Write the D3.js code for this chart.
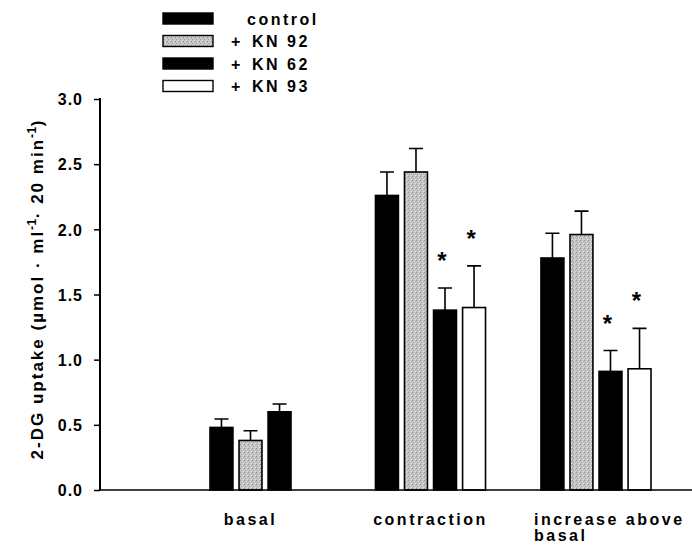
<!DOCTYPE html>
<html>
<head>
<meta charset="utf-8">
<script src="https://cdn.jsdelivr.net/npm/d3@7"></script>
<style>
  body { margin: 0; background: #fff; }
  svg text { font-family: "Liberation Sans", Arial, sans-serif; font-weight: bold; fill: #000; }
</style>
</head>
<body>
<svg id="chart" width="692" height="546"></svg>
<script>
// data
var categories = ["basal", "contraction", "increase above basal"];
var categoryLines = [["basal"], ["contraction"], ["increase above", "basal"]];
var seriesNames = ["control", "KN 92", "KN 62", "KN 93"];
var legendPrefix = ["", "+", "+", "+"];

var controlMeans = [0.48, 2.26, 1.78];
var kn92Means    = [0.38, 2.44, 1.96];
var kn62Means    = [0.60, 1.38, 0.91];
var kn93Means    = [null, 1.40, 0.93];

var controlSem = [0.065, 0.18, 0.19];
var kn92Sem    = [0.075, 0.18, 0.18];
var kn62Sem    = [0.06, 0.17, 0.16];
var kn93Sem    = [null, 0.32, 0.31];

var kn62Signif = [false, true, true];
var kn93Signif = [false, true, true];

var yTicks = [0, 0.5, 1.0, 1.5, 2.0, 2.5, 3.0];

var svg = d3.select("#chart");

// stipple for the KN 92 bars
var defs = svg.append("defs");
var pat = defs.append("pattern")
  .attr("id", "stipple")
  .attr("patternUnits", "userSpaceOnUse")
  .attr("width", 4).attr("height", 4);
pat.append("rect").attr("width", 4).attr("height", 4).attr("fill", "#c6c6c6");
[[0, 0, "#8a8a8a"], [2, 1, "#e6e6e6"], [1, 2, "#9c9c9c"], [3, 3, "#dcdcdc"], [3, 1, "#a8a8a8"]].forEach(function(p) {
  pat.append("rect").attr("x", p[0]).attr("y", p[1]).attr("width", 1).attr("height", 1).attr("fill", p[2]);
});

var fills = ["#000", "url(#stipple)", "#000", "#fff"];

var means = [controlMeans, kn92Means, kn62Means, kn93Means];
var sems = [controlSem, kn92Sem, kn62Sem, kn93Sem];
var signif = [null, null, kn62Signif, kn93Signif];

var axisX = 100, baseY = 490, topY = 99;

var y = d3.scaleLinear().domain([0, 3]).range([baseY, topY]);
var x0 = d3.scaleBand().domain(categories).range([210, 651]).paddingInner(0.335);
var x1 = d3.scaleBand().domain(seriesNames).range([0, x0.bandwidth()]).paddingInner(0.21);

// flatten to bar records
var bars = [];
categories.forEach(function(c, ci) {
  seriesNames.forEach(function(s, si) {
    if (means[si][ci] == null) return;
    bars.push({cat: c, ci: ci, ser: s, si: si, v: means[si][ci], e: sems[si][ci],
               star: signif[si] ? signif[si][ci] : false});
  });
});

var g = svg.append("g");

// error bars first so bar outline sits over the stem foot
g.selectAll(".err").data(bars).enter().append("path")
  .attr("class", "err")
  .attr("fill", "none").attr("stroke", "#000").attr("stroke-width", 1.6)
  .attr("d", function(d) {
    var cx = x0(d.cat) + x1(d.ser) + x1.bandwidth() / 2;
    var yt = y(d.v + d.e);
    return "M" + cx + "," + y(d.v) + "V" + yt + "M" + (cx - 7) + "," + yt + "H" + (cx + 7);
  });

g.selectAll(".bar").data(bars).enter().append("rect")
  .attr("class", "bar")
  .attr("x", function(d) { return x0(d.cat) + x1(d.ser); })
  .attr("y", function(d) { return y(d.v); })
  .attr("width", x1.bandwidth())
  .attr("height", function(d) { return baseY - y(d.v); })
  .attr("fill", function(d) { return fills[d.si]; })
  .attr("stroke", "#000").attr("stroke-width", 1.6);

// significance stars
g.selectAll(".star").data(bars.filter(function(d) { return d.star; })).enter().append("text")
  .attr("class", "star")
  .attr("x", function(d) { return x0(d.cat) + x1(d.ser) + x1.bandwidth() / 2 - 3; })
  .attr("y", function(d) { return y(d.v + d.e) - 19; })
  .attr("text-anchor", "middle")
  .style("font-size", "24px")
  .text("*");

// axes
var yAxis = d3.axisLeft(y).tickValues(yTicks).tickSize(6).tickPadding(11)
  .tickFormat(d3.format(".1f"));
var ya = svg.append("g").attr("transform", "translate(" + axisX + ",0)").call(yAxis);
ya.select(".domain").remove();
ya.selectAll(".tick line").attr("stroke", "#000").attr("stroke-width", 1.5);
ya.selectAll(".tick text").style("font-size", "16px").style("letter-spacing", "1px")
  .attr("font-family", null).attr("dy", "0.36em");

svg.append("line").attr("x1", axisX).attr("x2", axisX).attr("y1", topY - 1).attr("y2", baseY)
  .attr("stroke", "#000").attr("stroke-width", 2);
svg.append("line").attr("x1", axisX).attr("x2", 692).attr("y1", baseY).attr("y2", baseY)
  .attr("stroke", "#000").attr("stroke-width", 1.5);

// category labels
categories.forEach(function(c, ci) {
  var lines = categoryLines[ci];
  var present = bars.filter(function(d) { return d.ci === ci; });
  var t = svg.append("text").style("font-size", "16px").style("letter-spacing", "2.5px");
  if (lines.length === 1) {
    var left = x0(c) + x1(present[0].ser);
    var right = x0(c) + x1(present[present.length - 1].ser) + x1.bandwidth();
    t.attr("text-anchor", "middle").attr("x", (left + right) / 2).attr("y", 525).text(lines[0]);
  } else {
    lines.forEach(function(l, li) {
      t.append("tspan").attr("x", x0(c) - 7).attr("y", 525 + li * 16).text(l);
    });
  }
});

// y title
var title = svg.append("text")
  .attr("transform", "translate(43,289) rotate(-90)")
  .attr("text-anchor", "middle")
  .style("font-size", "17px").style("letter-spacing", "2px");
title.append("tspan").text("2-DG uptake (µmol · ml");
title.append("tspan").attr("dy", -7).style("font-size", "12px").style("letter-spacing", "0.5px").text("-1");
title.append("tspan").attr("dy", 7).text("· 20 min");
title.append("tspan").attr("dy", -7).style("font-size", "12px").style("letter-spacing", "0.5px").text("-1");
title.append("tspan").attr("dy", 7).text(")");

// legend
var leg = svg.append("g").selectAll("g").data(seriesNames).enter().append("g")
  .attr("transform", function(d, i) { return "translate(163," + (18.5 + i * 22.5) + ")"; });
leg.append("rect").attr("x", 0).attr("y", -5.5).attr("width", 50).attr("height", 11)
  .attr("fill", function(d, i) { return fills[i]; })
  .attr("stroke", "#000").attr("stroke-width", 1.4);
leg.append("text").attr("x", 68).attr("y", 6).style("font-size", "16px")
  .text(function(d, i) { return legendPrefix[i]; });
leg.append("text").attr("x", function(d, i) { return i === 0 ? 84 : 89; }).attr("y", 6)
  .style("font-size", "16px").style("letter-spacing", "2.5px")
  .text(function(d) { return d; });
</script>
</body>
</html>
